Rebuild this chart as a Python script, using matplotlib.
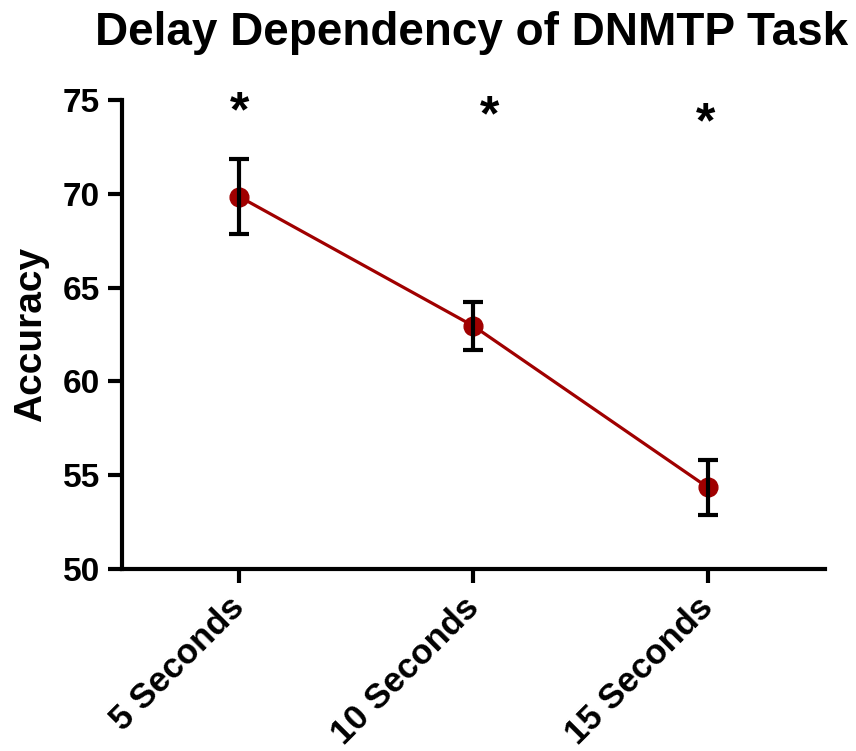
import matplotlib
matplotlib.use("Agg")
import matplotlib.pyplot as plt

# Accuracy by delay length (mean with error)
delays = ["5 Seconds", "10 Seconds", "15 Seconds"]
accuracy = [69.85, 62.95, 54.35]
error = [2.0, 1.3, 1.45]
# significance markers: position along x and height in accuracy units
star_x = [0.0, 1.07, 1.99]
star_y = [74.3, 74.05, 73.7]

plt.rcParams["font.family"] = ["Liberation Sans", "DejaVu Sans"]
plt.rcParams["font.weight"] = "bold"

fig = plt.figure(figsize=(8.56, 7.51), dpi=100)
ax = fig.add_axes([122 / 856, 1 - 569 / 751, (825 - 122) / 856, (569 - 100) / 751])

x = list(range(len(delays)))
ax.plot(x, accuracy, color="#a00000", linewidth=2.3, marker="o",
        markersize=13.5, zorder=2, solid_capstyle="butt")
ax.errorbar(x, accuracy, yerr=error, fmt="none", ecolor="black",
            elinewidth=3, capsize=7, capthick=3, zorder=3)

for sx, sy in zip(star_x, star_y):
    ax.text(sx, sy, "*", ha="center", va="center", fontsize=36,
            fontweight="bold", color="black", clip_on=False)

ax.set_xlim(-0.5, 2.5)
ax.set_ylim(50, 75)
ax.set_yticks([50, 55, 60, 65, 70, 75])
ax.set_xticks(x)
ax.set_xticklabels(delays, rotation=45, ha="right", va="center",
                   rotation_mode="anchor")

for side in ("top", "right"):
    ax.spines[side].set_visible(False)
for side in ("left", "bottom"):
    ax.spines[side].set_linewidth(3)

ax.tick_params(axis="both", direction="out", length=10, width=3,
               labelsize=24, pad=6)
ax.tick_params(axis="x", pad=14, labelsize=25)
for lbl in ax.get_xticklabels() + ax.get_yticklabels():
    lbl.set_fontweight("bold")

ax.set_ylabel("Accuracy", fontsize=28, fontweight="bold", labelpad=10)

fig.text(0.551, 1 - 45 / 751, "Delay Dependency of DNMTP Task",
         ha="center", va="baseline", fontsize=33, fontweight="bold")

fig.savefig("out.png", dpi=100, facecolor="white")
